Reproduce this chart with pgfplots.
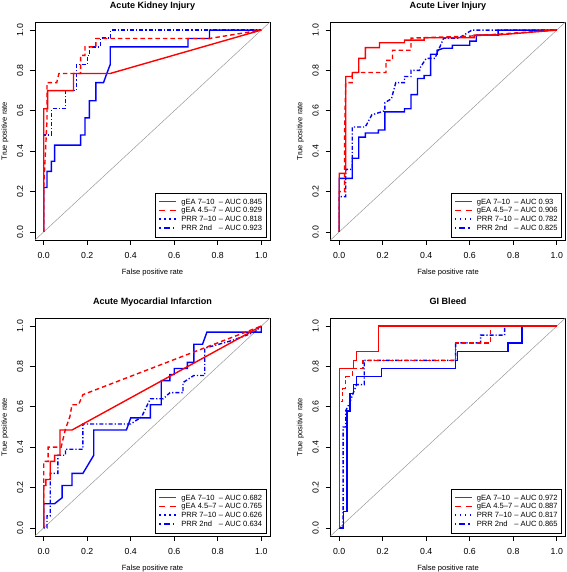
\documentclass[border=0pt]{standalone}
\usepackage{fontspec}
\setmainfont{Liberation Sans}
\usepackage{pgfplots}
\pgfplotsset{compat=1.18}
\definecolor{rred}{HTML}{FF0000}
\definecolor{rblue}{HTML}{0000FF}
\newcommand{\legfont}{\fontsize{7.6}{9}\selectfont}
\newcommand{\lentry}[2]{\makebox[0pt][l]{#1}\phantom{gEA 4.5--7} -- AUC #2}
\newcommand{\rr}[1]{\rule[1.8bp]{#1}{1.4bp}}
\newcommand{\lsolid}{\textcolor{rred}{\rr{17bp}}}
\newcommand{\ldash}{\textcolor{rred}{\rr{6bp}\hspace{5bp}\rr{6bp}}}
\newcommand{\ldot}{\textcolor{rblue}{\rr{1.5bp}\hspace{3.5bp}\rr{1.5bp}\hspace{3.5bp}\rr{1.5bp}\hspace{3.5bp}\rr{1.5bp}}}
\newcommand{\ldashdot}{\textcolor{rblue}{\rr{1.5bp}\hspace{3bp}\rr{6bp}\hspace{3bp}\rr{1.5bp}\hspace{2bp}}}
\newcommand{\lrow}[3]{\makebox[17bp][l]{#1}\hspace{5bp}\lentry{#2}{#3}}
\pgfplotsset{
  rocaxis/.style={
    scale only axis, width=235bp, height=218bp,
    xmin=-0.04, xmax=1.04, ymin=-0.04, ymax=1.04,
    axis line style={line width=0.8bp},
    xtick={0,0.2,0.4,0.6,0.8,1}, ytick={0,0.2,0.4,0.6,0.8,1},
    xticklabels={0.0,0.2,0.4,0.6,0.8,1.0},
    yticklabels={0.0,0.2,0.4,0.6,0.8,1.0},
    tick align=outside, tick pos=left,
    major tick length=5bp,
    every tick/.style={black, line width=0.7bp},
    ticklabel style={font=\fontsize{8.8}{10}\selectfont},
    xticklabel style={anchor=center, yshift=-10bp},
    yticklabel style={rotate=90, anchor=center, yshift=10bp},
    title style={at={([yshift=8bp]rel axis cs:0.5,1)}, anchor=base, font=\bfseries\fontsize{9.1}{10}\selectfont},
    xlabel style={at={([yshift=-33bp]rel axis cs:0.5,0)}, anchor=center, font=\fontsize{7.6}{9}\selectfont},
    ylabel style={at={([xshift=-30bp]rel axis cs:0,0.5)}, anchor=center, font=\fontsize{7.6}{9}\selectfont},
    xlabel={False positive rate}, ylabel={True positive rate},
    legend style={at={(rel axis cs:0.985,0.012)}, anchor=south east, draw=black, line width=0.6bp,
      fill=white, font=\legfont, inner xsep=2.5bp, inner ysep=3.5bp, row sep=-1bp,
      nodes={inner sep=1.5bp}},
    legend cell align=left,
    clip=false,
  },
  gsolid/.style={rred, solid, line width=1.4bp},
  gdash/.style={rred, line width=1.4bp, dash pattern=on 4.5bp off 3bp},
  psolid/.style={rblue, solid, line width=1.4bp},
  pdashdot/.style={rblue, line width=1.4bp, dash pattern=on 1.2bp off 2bp on 4bp off 2bp},
  diag/.style={gray!80, line width=0.5bp},
}
\newcommand{\leg}[4]{%
  \addlegendimage{empty legend}\addlegendentry{\lrow{\lsolid}{gEA 7--10}{#1}}
  \addlegendimage{empty legend}\addlegendentry{\lrow{\ldash}{gEA 4.5--7}{#2}}
  \addlegendimage{empty legend}\addlegendentry{\lrow{\ldot}{PRR 7--10}{#3}}
  \addlegendimage{empty legend}\addlegendentry{\lrow{\ldashdot}{PRR 2nd}{#4}}}
\begin{document}
\begin{tikzpicture}
\path (0,0) rectangle (567bp,572bp);
% Panel 1
\begin{axis}[rocaxis, at={(35bp,332bp)}, anchor=south west, title={Acute Kidney Injury}]
\addplot[diag, forget plot] coordinates {(-0.04,-0.04) (1.04,1.04)};
\addplot[psolid, forget plot] coordinates {(0,0) (0,0.22) (0.015,0.22) (0.015,0.30) (0.035,0.30) (0.035,0.35) (0.05,0.35) (0.05,0.43) (0.17,0.43) (0.17,0.48) (0.19,0.48) (0.19,0.565) (0.21,0.565) (0.21,0.65) (0.24,0.65) (0.24,0.74) (0.275,0.74) (0.29,0.785) (0.306,0.83) (0.306,0.917) (0.663,0.917) (0.663,0.958) (0.762,0.958) (0.762,1) (1,1)};
\addplot[pdashdot, forget plot] coordinates {(0,0) (0,0.48) (0.035,0.48) (0.035,0.61) (0.10,0.61) (0.10,0.70) (0.15,0.70) (0.15,0.83) (0.20,0.83) (0.20,0.875) (0.21,0.875) (0.21,0.917) (0.26,0.917) (0.26,0.96) (0.306,0.96) (0.306,1) (1,1)};
\addplot[gdash, forget plot] coordinates {(0,0) (0,0.22) (0.015,0.55) (0.015,0.74) (0.06,0.74) (0.07,0.785) (0.17,0.785) (0.17,0.875) (0.19,0.875) (0.19,0.917) (0.24,0.917) (0.24,0.958) (0.76,0.958) (1,1)};
\addplot[gsolid, forget plot] coordinates {(0,0) (0,0.61) (0.018,0.61) (0.018,0.70) (0.137,0.70) (0.137,0.785) (0.306,0.785) (1,1)};
\leg{0.845}{0.929}{0.818}{0.923}
\end{axis}
% Panel 2
\begin{axis}[rocaxis, at={(330.5bp,332bp)}, anchor=south west, title={Acute Liver Injury}]
\addplot[diag, forget plot] coordinates {(-0.04,-0.04) (1.04,1.04)};
\addplot[psolid, forget plot] coordinates {(0,0) (0,0.265) (0.06,0.265) (0.06,0.365) (0.09,0.365) (0.09,0.47) (0.12,0.47) (0.12,0.49) (0.18,0.49) (0.18,0.505) (0.21,0.505) (0.21,0.595) (0.30,0.595) (0.30,0.61) (0.33,0.61) (0.33,0.68) (0.36,0.68) (0.36,0.76) (0.39,0.76) (0.39,0.775) (0.42,0.775) (0.42,0.88) (0.45,0.88) (0.45,0.90) (0.48,0.91) (0.52,0.91) (0.52,0.925) (0.60,0.925) (0.60,0.945) (0.63,0.945) (0.63,0.975) (0.73,0.975) (0.73,1) (1,1)};
\addplot[pdashdot, forget plot] coordinates {(0,0) (0,0.175) (0.03,0.175) (0.03,0.31) (0.06,0.31) (0.06,0.52) (0.12,0.52) (0.15,0.58) (0.21,0.60) (0.21,0.64) (0.24,0.66) (0.26,0.74) (0.30,0.74) (0.30,0.77) (0.33,0.77) (0.33,0.80) (0.37,0.80) (0.37,0.81) (0.40,0.86) (0.44,0.86) (0.48,0.96) (0.55,0.96) (0.61,1) (1,1)};
\addplot[gdash, forget plot] coordinates {(0,0) (0,0.20) (0.025,0.20) (0.025,0.50) (0.03,0.74) (0.06,0.74) (0.06,0.79) (0.215,0.79) (0.215,0.85) (0.245,0.85) (0.245,0.90) (0.33,0.90) (0.33,0.96) (0.60,0.97) (1,1)};
\addplot[gsolid, forget plot] coordinates {(0,0) (0,0.29) (0.03,0.29) (0.03,0.77) (0.06,0.77) (0.06,0.79) (0.09,0.79) (0.09,0.86) (0.12,0.86) (0.12,0.913) (0.185,0.913) (0.185,0.937) (0.30,0.937) (0.30,0.95) (0.39,0.95) (0.39,0.962) (0.62,0.962) (0.62,0.975) (0.72,0.975) (1,1)};
\leg{0.93}{0.906}{0.782}{0.825}
\end{axis}
% Panel 3
\begin{axis}[rocaxis, at={(35bp,36bp)}, anchor=south west, title={Acute Myocardial Infarction}]
\addplot[diag, forget plot] coordinates {(-0.04,-0.04) (1.04,1.04)};
\addplot[psolid, forget plot] coordinates {(0,0) (0,0.12) (0.05,0.12) (0.085,0.15) (0.085,0.21) (0.13,0.21) (0.13,0.27) (0.18,0.27) (0.23,0.36) (0.23,0.485) (0.38,0.485) (0.40,0.545) (0.49,0.545) (0.49,0.61) (0.54,0.61) (0.54,0.73) (0.58,0.73) (0.58,0.76) (0.60,0.76) (0.60,0.79) (0.66,0.79) (0.66,0.82) (0.69,0.82) (0.69,0.91) (0.73,0.91) (0.75,0.97) (1,0.97) (1,1)};
\addplot[pdashdot, forget plot] coordinates {(0,0) (0.015,0) (0.015,0.06) (0.03,0.06) (0.03,0.27) (0.065,0.27) (0.065,0.36) (0.10,0.36) (0.10,0.39) (0.18,0.39) (0.18,0.515) (0.40,0.515) (0.45,0.55) (0.49,0.64) (0.55,0.64) (0.58,0.67) (0.64,0.67) (0.64,0.72) (0.69,0.755) (0.74,0.755) (0.74,0.89) (0.87,0.93) (0.97,0.97) (1,1)};
\addplot[gdash, forget plot] coordinates {(0,0) (0,0.33) (0.02,0.33) (0.02,0.40) (0.08,0.40) (0.10,0.49) (0.12,0.55) (0.13,0.61) (0.16,0.61) (0.18,0.66) (1,1)};
\addplot[gsolid, forget plot] coordinates {(0,0) (0,0.21) (0.01,0.21) (0.01,0.24) (0.03,0.24) (0.03,0.33) (0.05,0.33) (0.05,0.36) (0.075,0.36) (0.075,0.485) (0.13,0.485) (1,1)};
\leg{0.682}{0.765}{0.626}{0.634}
\end{axis}
% Panel 4
\begin{axis}[rocaxis, at={(330.5bp,36bp)}, anchor=south west, title={GI Bleed}]
\addplot[diag, forget plot] coordinates {(-0.04,-0.04) (1.04,1.04)};
\addplot[psolid, forget plot] coordinates {(0,0) (0.02,0) (0.02,0.08) (0.035,0.08) (0.035,0.58) (0.05,0.58) (0.05,0.665) (0.065,0.665) (0.065,0.71) (0.08,0.71) (0.08,0.75) (0.195,0.75) (0.195,0.79) (0.535,0.79) (0.535,0.83) (0.545,0.83) (0.545,0.875) (0.775,0.875) (0.775,0.917) (0.84,0.917) (0.84,1) (1,1)};
\addplot[pdashdot, forget plot] coordinates {(0,0) (0.018,0) (0.018,0.5) (0.03,0.5) (0.03,0.58) (0.05,0.625) (0.065,0.67) (0.08,0.71) (0.115,0.71) (0.115,0.83) (0.535,0.83) (0.535,0.917) (0.65,0.917) (0.65,0.955) (0.76,0.955) (0.76,1) (1,1)};
\addplot[gdash, forget plot] coordinates {(0,0) (0,0.625) (0.015,0.625) (0.015,0.69) (0.03,0.69) (0.03,0.75) (0.06,0.75) (0.06,0.79) (0.11,0.79) (0.11,0.83) (0.535,0.83) (0.535,0.917) (0.695,0.917) (0.695,1) (1,1)};
\addplot[gsolid, forget plot] coordinates {(0,0) (0,0.79) (0.065,0.79) (0.065,0.83) (0.08,0.83) (0.08,0.875) (0.18,0.875) (0.18,1) (1,1)};
\leg{0.972}{0.887}{0.817}{0.865}
\end{axis}
\pgfresetboundingbox
\useasboundingbox (0,0) rectangle (567bp,572bp);
\end{tikzpicture}
\end{document}
